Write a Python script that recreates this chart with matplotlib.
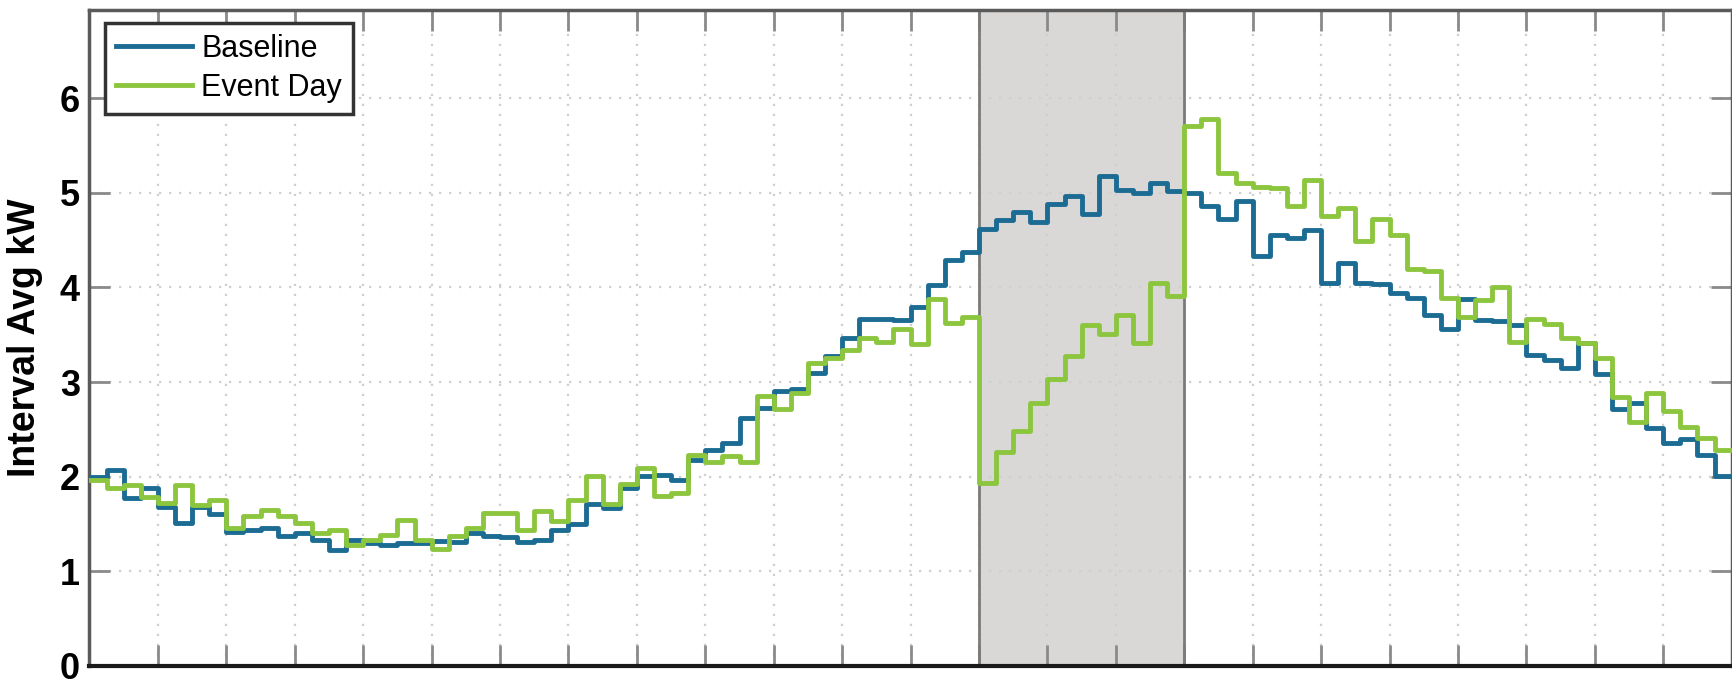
import numpy as np
from matplotlib import pyplot as plt

# 15-minute interval averages over one day (96 intervals)
baseline_kw = [
    2.00, 2.07, 1.77, 1.88, 1.68, 1.51, 1.68, 1.61, 1.42, 1.44, 1.46, 1.37,
    1.40, 1.33, 1.23, 1.33, 1.30, 1.28, 1.30, 1.30, 1.32, 1.31, 1.40, 1.37,
    1.36, 1.31, 1.33, 1.44, 1.50, 1.71, 1.67, 1.88, 2.01, 2.02, 1.96, 2.18,
    2.28, 2.36, 2.62, 2.73, 2.91, 2.93, 3.10, 3.27, 3.46, 3.67, 3.67, 3.66,
    3.79, 4.03, 4.29, 4.37, 4.62, 4.71, 4.80, 4.69, 4.88, 4.96, 4.78, 5.18,
    5.03, 5.00, 5.10, 5.02, 5.00, 4.86, 4.72, 4.91, 4.33, 4.55, 4.52, 4.61,
    4.05, 4.26, 4.05, 4.04, 3.94, 3.89, 3.71, 3.56, 3.88, 3.66, 3.64, 3.60,
    3.29, 3.23, 3.15, 3.41, 3.08, 2.71, 2.78, 2.51, 2.36, 2.40, 2.23, 2.01,
]
event_day_kw = [
    1.97, 1.88, 1.91, 1.79, 1.72, 1.91, 1.70, 1.75, 1.46, 1.58, 1.65, 1.58,
    1.51, 1.40, 1.44, 1.28, 1.33, 1.38, 1.54, 1.33, 1.24, 1.37, 1.46, 1.62,
    1.62, 1.44, 1.64, 1.53, 1.75, 2.01, 1.71, 1.92, 2.09, 1.80, 1.83, 2.23,
    2.16, 2.22, 2.16, 2.85, 2.71, 2.88, 3.20, 3.25, 3.34, 3.46, 3.42, 3.56,
    3.40, 3.88, 3.62, 3.69, 1.93, 2.26, 2.48, 2.78, 3.03, 3.28, 3.60, 3.51,
    3.71, 3.41, 4.05, 3.91, 5.70, 5.78, 5.21, 5.10, 5.06, 5.05, 4.86, 5.13,
    4.75, 4.84, 4.49, 4.72, 4.55, 4.19, 4.17, 3.89, 3.69, 3.87, 4.00, 3.42,
    3.67, 3.61, 3.47, 3.41, 3.25, 2.84, 2.58, 2.88, 2.69, 2.53, 2.41, 2.28,
]
event_window = (13, 16)  # hours
y_ticks = [0, 1, 2, 3, 4, 5, 6]

BLUE = '#1b6b93'
GREEN = '#8cc63e'

hours = np.arange(len(baseline_kw) + 1) * 0.25

fig = plt.figure(figsize=(17.33, 6.79), dpi=100)
ax = fig.add_axes([0.05164, 0.01915, 0.9476, 0.96613])

# event window shading
ax.axvspan(event_window[0], event_window[1], color='#d9d8d7', zorder=1, lw=0)
for h in event_window:
    ax.axvline(h, color='#7a7a7a', lw=2, zorder=1.6)

ax.step(hours, np.append(baseline_kw, baseline_kw[-1]), where='post',
        color=BLUE, lw=3.5, label='Baseline', zorder=3)
ax.step(hours, np.append(event_day_kw, event_day_kw[-1]), where='post',
        color=GREEN, lw=3.5, label='Event Day', zorder=3)

ax.set_xlim(0, 24)
ax.set_ylim(0, 6.93)
ax.set_xticks(np.arange(0, 25, 1))
ax.set_xticklabels([])
ax.set_yticks(y_ticks)
ax.set_yticklabels([str(t) for t in y_ticks], fontsize=26, fontweight='bold',
                   family='Liberation Sans')
ax.tick_params(direction='in', length=15, width=2, color='#8a8a8a',
               top=True, right=True, pad=7)

ax.grid(True, color='#cfcfcf', linestyle=(0, (1, 3.5)), linewidth=1.6)

for side in ['top', 'right', 'left']:
    ax.spines[side].set_color('#5a5a5a')
    ax.spines[side].set_linewidth(2.5)
ax.spines['bottom'].set_color('#1a1a1a')
ax.spines['bottom'].set_linewidth(3)

ax.set_ylabel('Interval Avg kW', fontsize=27, fontweight='bold',
              family='Liberation Sans', labelpad=12)

leg = ax.legend(loc='upper left', bbox_to_anchor=(0.0094, 0.980),
                borderaxespad=0, fancybox=False, framealpha=1,
                prop={'family': 'Liberation Sans', 'size': 22},
                handlelength=2.5, handletextpad=0.3, labelspacing=0.3,
                borderpad=0.35)
leg.get_frame().set_edgecolor('#333333')
leg.get_frame().set_linewidth(2.5)

plt.savefig('out.png', dpi=100)
